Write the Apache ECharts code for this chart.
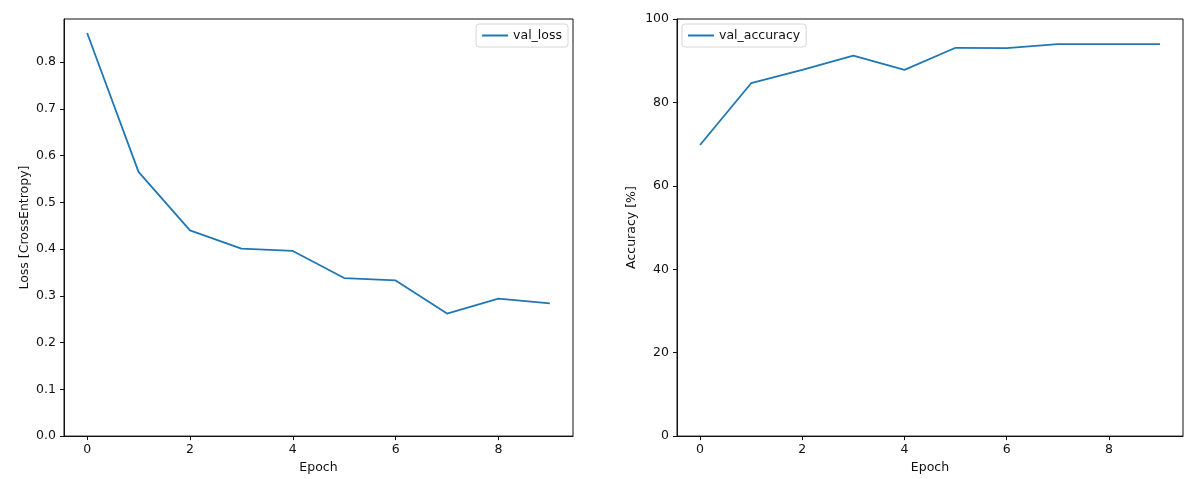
<!DOCTYPE html>
<html>
<head>
<meta charset="utf-8">
<script src="https://cdn.jsdelivr.net/npm/echarts@6/dist/echarts.min.js"></script>
<style>
  html, body { margin: 0; padding: 0; background: #fff; }
  #chart { width: 1186px; height: 479px; }
</style>
</head>
<body>
<div id="chart"></div>
<script>
// Training history: validation loss and accuracy per epoch
const epochs = [0, 1, 2, 3, 4, 5, 6, 7, 8, 9];
const valLoss = [0.862, 0.565, 0.440, 0.401, 0.396, 0.338, 0.333, 0.262, 0.294, 0.284];
const valAccuracy = [69.8, 84.6, 87.8, 91.2, 87.8, 93.1, 93.0, 94.0, 94.0, 94.0];
const epochTicks = [0, 2, 4, 6, 8];
const lossTicks = [0, 0.1, 0.2, 0.3, 0.4, 0.5, 0.6, 0.7, 0.8];
const accTicks = [0, 20, 40, 60, 80, 100];

const FONT = 'DejaVu Sans';
const FS = 12.5;
const INK = '#111';
const BLUE = '#1f77b4';

const chart = echarts.init(document.getElementById('chart'), null, { renderer: 'canvas' });

function xAxisFor(gridIndex) {
  return {
    type: 'value', gridIndex,
    min: -0.45, max: 9.45,
    name: 'Epoch', nameLocation: 'middle', nameGap: 24,
    nameTextStyle: { color: INK, fontFamily: FONT, fontSize: FS },
    axisLine: { show: true, onZero: false, lineStyle: { color: INK, width: 1 } },
    axisTick: { show: true, length: 4, customValues: epochTicks, lineStyle: { color: INK } },
    axisLabel: { customValues: epochTicks, margin: 7, color: INK, fontFamily: FONT, fontSize: FS },
    splitLine: { show: false }
  };
}

function legendFor(name, pos) {
  return Object.assign({
    data: [{ name, icon: 'rect' }], top: 24,
    backgroundColor: 'rgba(255,255,255,0.8)', borderColor: '#d6d6d6', borderWidth: 1, borderRadius: 3,
    padding: [5, 6, 5, 6], itemWidth: 26, itemHeight: 2,
    textStyle: { color: INK, fontFamily: FONT, fontSize: FS }
  }, pos);
}

chart.setOption({
  backgroundColor: '#fff',
  animation: false,
  grid: [
    { left: 64, top: 19, width: 509, height: 418, show: true, borderColor: INK, borderWidth: 1 },
    { left: 677, top: 19, width: 506, height: 418, show: true, borderColor: INK, borderWidth: 1 }
  ],
  legend: [
    legendFor('val_loss', { right: 618 }),
    legendFor('val_accuracy', { left: 682 })
  ],
  xAxis: [xAxisFor(0), xAxisFor(1)],
  yAxis: [
    {
      type: 'value', gridIndex: 0, min: 0, max: 0.892,
      name: 'Loss [CrossEntropy]', nameLocation: 'middle', nameGap: 33, nameRotate: 90,
      nameTextStyle: { color: INK, fontFamily: FONT, fontSize: FS },
      axisLine: { show: true, onZero: false, lineStyle: { color: INK, width: 1 } },
      axisTick: { show: true, length: 4, customValues: lossTicks, lineStyle: { color: INK } },
      axisLabel: { customValues: lossTicks, margin: 8, color: INK, fontFamily: FONT, fontSize: FS,
                   formatter: v => v.toFixed(1) },
      splitLine: { show: false }
    },
    {
      type: 'value', gridIndex: 1, min: 0, max: 100, interval: 20,
      name: 'Accuracy [%]', nameLocation: 'middle', nameGap: 39, nameRotate: 90,
      nameTextStyle: { color: INK, fontFamily: FONT, fontSize: FS },
      axisLine: { show: true, onZero: false, lineStyle: { color: INK, width: 1 } },
      axisTick: { show: true, length: 4, customValues: accTicks, lineStyle: { color: INK } },
      axisLabel: { customValues: accTicks, margin: 8, color: INK, fontFamily: FONT, fontSize: FS },
      splitLine: { show: false }
    }
  ],
  series: [
    {
      name: 'val_loss', type: 'line', xAxisIndex: 0, yAxisIndex: 0,
      data: epochs.map((e, i) => [e, valLoss[i]]),
      symbol: 'none', color: BLUE, lineStyle: { color: BLUE, width: 1.8 }
    },
    {
      name: 'val_accuracy', type: 'line', xAxisIndex: 1, yAxisIndex: 1,
      data: epochs.map((e, i) => [e, valAccuracy[i]]),
      symbol: 'none', color: BLUE, lineStyle: { color: BLUE, width: 1.8 }
    }
  ]
});
</script>
</body>
</html>
